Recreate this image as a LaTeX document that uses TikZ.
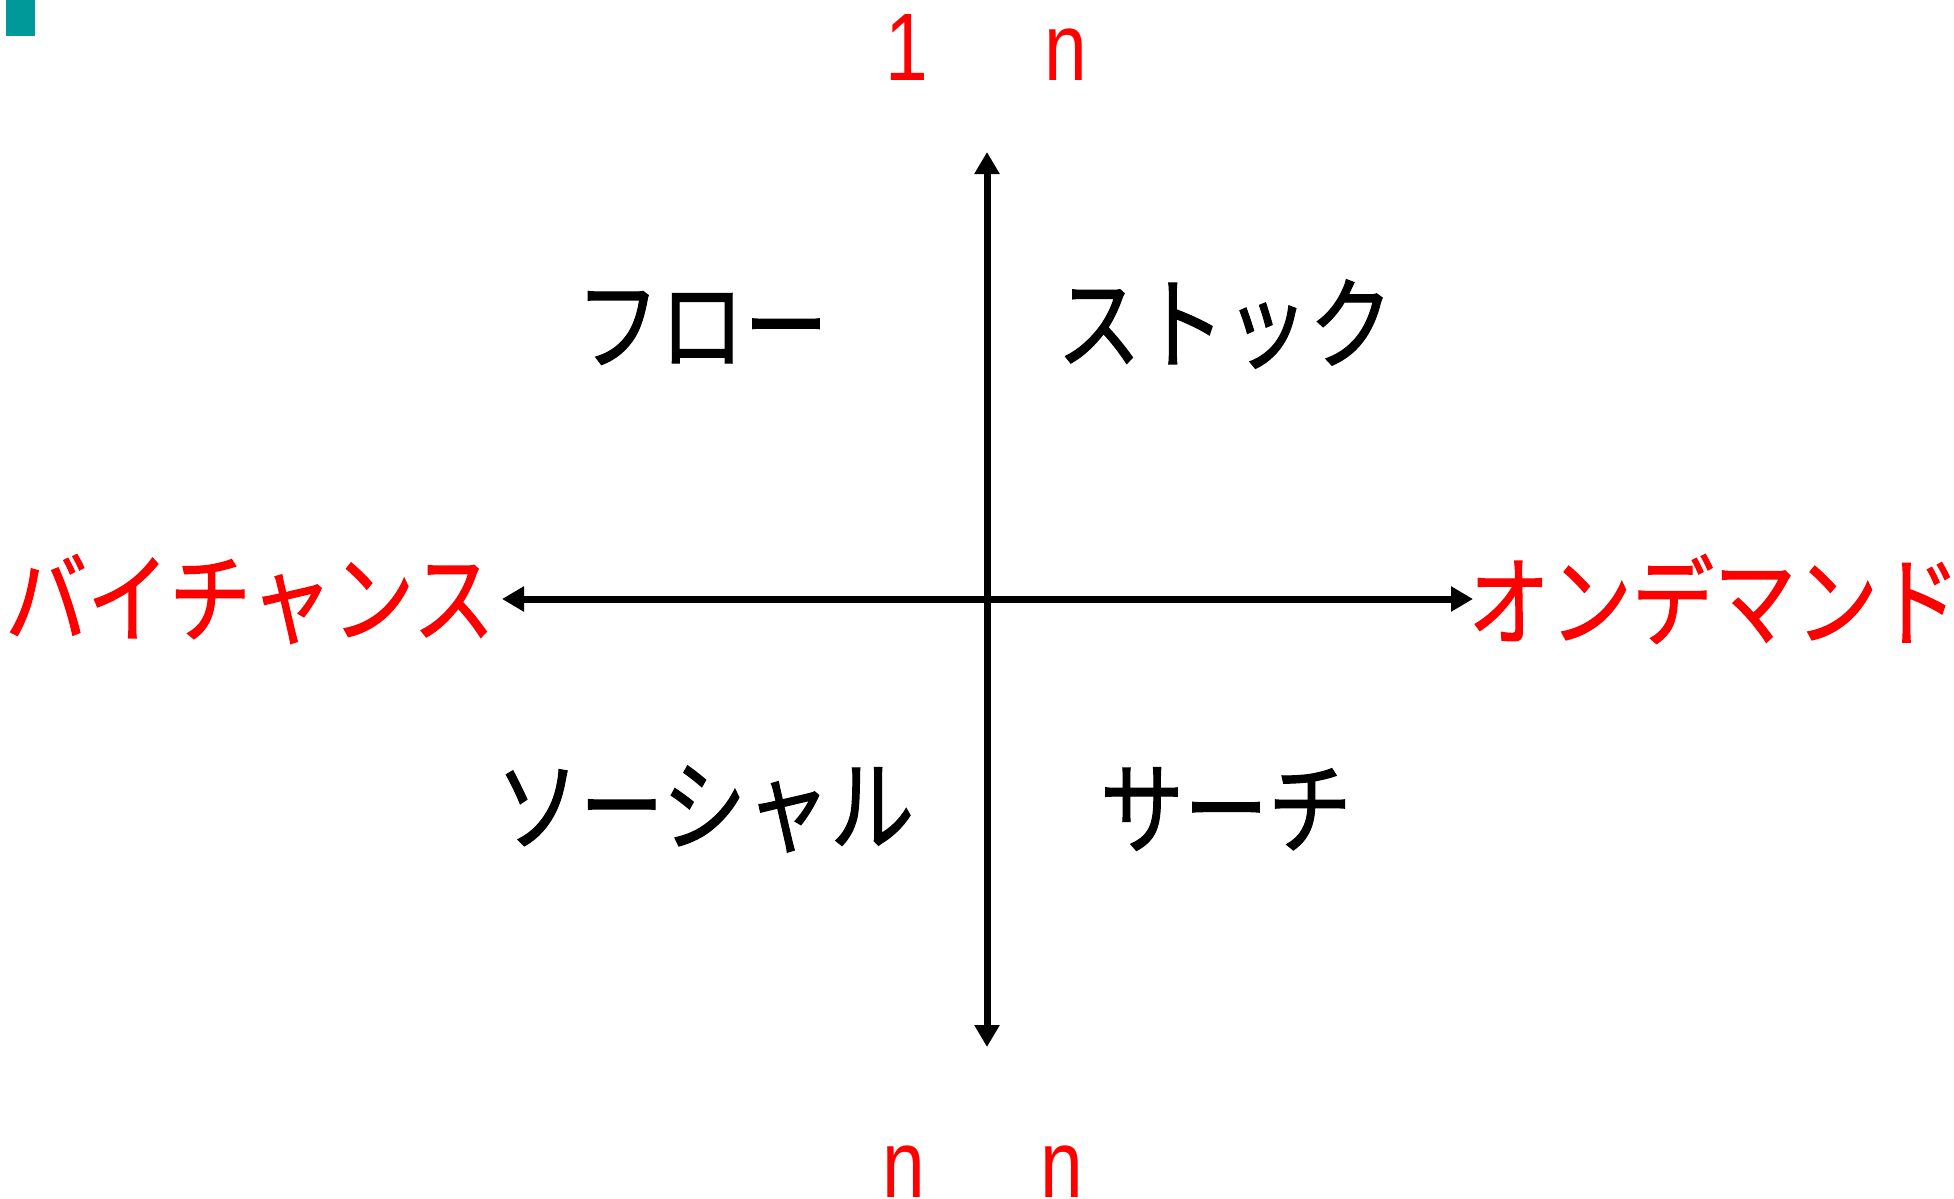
\documentclass[tikz,border=0pt]{standalone}
\usepackage{fontspec}
\newfontfamily\jp[FakeBold=1.2]{Noto Sans CJK JP}
\newfontfamily\lat{Liberation Sans}
\usetikzlibrary{arrows.meta}
\definecolor{teal1}{RGB}{0,153,153}
\definecolor{red1}{RGB}{255,0,0}
\newcommand{\tallj}[1]{\scalebox{1}[1.2]{#1}}
\newcommand{\narrowd}[1]{\scalebox{0.8}[1]{#1}}
\begin{document}
\begin{tikzpicture}[x=0.5pt,y=-0.5pt,
  axis/.style={line width=3.5pt,{Triangle[width=12pt,length=11pt]}-{Triangle[width=12pt,length=11pt]}},
  quad/.style={font=\jp\fontsize{42}{50}\selectfont,text=black,inner sep=0pt},
  pole/.style={font=\jp\fontsize{41}{50}\selectfont,text=red1,inner sep=0pt},
  cnt/.style={font=\lat\fontsize{48}{56}\selectfont,text=red1,inner sep=0pt,anchor=base}]
\useasboundingbox (0,0) rectangle (1954,1199);
\fill[teal1] (6,0) rectangle (35,36);
\coordinate (top) at (987,152);
\coordinate (bottom) at (987,1047);
\coordinate (left) at (502,599);
\coordinate (right) at (1473,599);
\draw[axis] (bottom) -- (top);
\draw[axis] (left) -- (right);
\node[quad] (flow) at (702,328) {\tallj{フロー}};
\node[quad] (stock) at (1225,324) {\tallj{ストック}};
\node[quad] (social) at (705,809) {\tallj{ソーシャル}};
\node[quad] (search) at (1226,809) {\tallj{サーチ}};
\node[pole] (buy) at (250,599) {\tallj{バイチャンス}};
\node[pole] (ondemand) at (1714,599) {\tallj{オンデマンド}};
\node[cnt] (one) at (907,80) {\narrowd{1}};
\node[cnt] (ntop) at (1066,80) {\narrowd{n}};
\node[cnt] (nb1) at (904,1197) {\narrowd{n}};
\node[cnt] (nb2) at (1062,1197) {\narrowd{n}};
\end{tikzpicture}
\end{document}
